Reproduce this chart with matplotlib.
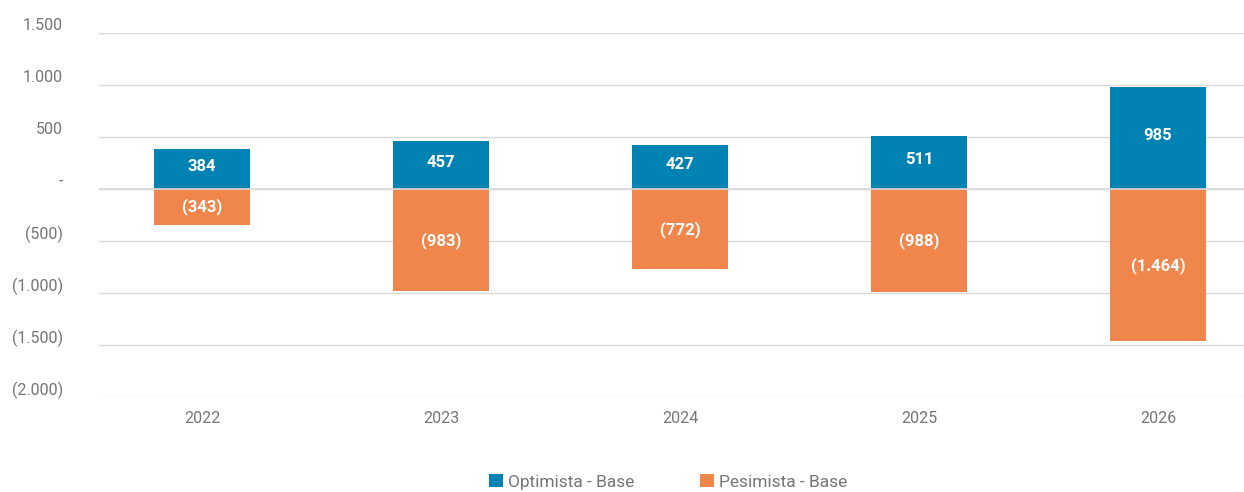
import matplotlib
matplotlib.use('agg')
import matplotlib.pyplot as plt
import matplotlib.transforms as mtransforms
import numpy as np

plt.rcParams['font.family'] = ['Roboto', 'DejaVu Sans']

years = ['2022', '2023', '2024', '2025', '2026']
optimista = [384, 457, 427, 511, 985]
pesimista = [-343, -983, -772, -988, -1464]
yticks = [-2000, -1500, -1000, -500, 0, 500, 1000, 1500]

blue = '#0083b3'
orange = '#f0864c'
grey = '#757575'


def fmt(v):
    s = '{:,.0f}'.format(abs(v)).replace(',', '.')
    if v == 0:
        return '-'
    return '(%s)' % s if v < 0 else s


fig = plt.figure(figsize=(12.44, 4.92), dpi=100)
ax = fig.add_axes([0.0796, 0.193, 0.9204, 0.740])

x = np.arange(len(years))
w = 0.40
ax.bar(x, optimista, w, color=blue, label='Optimista - Base', zorder=2)
ax.bar(x, pesimista, w, color=orange, label='Pesimista - Base', zorder=2)

for xi, v in zip(x, optimista):
    ax.text(xi, v / 2 + 25, fmt(v), ha='center', va='center', color='white',
            fontsize=12, fontweight='bold', zorder=3)
for xi, v in zip(x, pesimista):
    ax.text(xi, v / 2, fmt(v), ha='center', va='center', color='white',
            fontsize=12, fontweight='bold', zorder=3)

ax.set_ylim(-2000, 1500)
ax.set_xlim(-0.431, 4.36)
ax.set_yticks(yticks)
ax.set_yticklabels([fmt(t) for t in yticks])
ax.set_xticks(x)
ax.set_xticklabels(years)
ax.grid(axis='y', color='#d9d9d9', linewidth=1, zorder=0)
ax.axhline(0, color='#d9d9d9', linewidth=1.2, zorder=2.5)
ax.set_axisbelow(True)
for s in ax.spines.values():
    s.set_visible(False)
ax.tick_params(axis='both', length=0, colors=grey, labelsize=11.5)
ax.tick_params(axis='y', pad=26)
ax.tick_params(axis='x', pad=10)

# y labels sit a little above their gridlines
shift = mtransforms.ScaledTranslation(0, 0.09, fig.dpi_scale_trans)
for lab in ax.get_yticklabels():
    lab.set_transform(lab.get_transform() + shift)

ax.legend(loc='upper center', bbox_to_anchor=(0.497, -0.178), ncol=2, frameon=False,
          fontsize=12.5, handlelength=0.8, handleheight=0.8, handletextpad=0.3,
          columnspacing=3.8, labelcolor=grey, borderaxespad=0.3)

plt.savefig('out.png', dpi=100)
